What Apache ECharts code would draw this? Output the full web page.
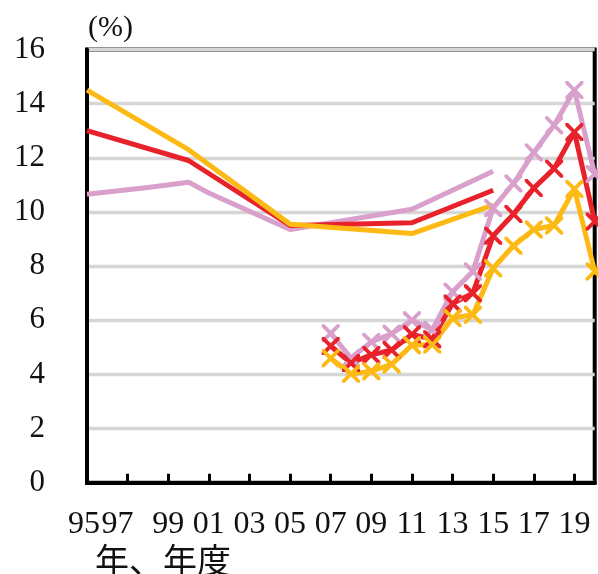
<!DOCTYPE html>
<html><head><meta charset="utf-8">
<script src="https://cdn.jsdelivr.net/npm/echarts@6/dist/echarts.min.js"></script>
<style>html,body{margin:0;padding:0;background:#fff}#c{width:598px;height:574px}</style>
</head><body><div id="c"></div>
<script>
// ---- data ----
const years = [1995,1996,1997,1998,1999,2000,2001,2002,2003,2004,2005,2006,2007,2008,2009,2010,2011,2012,2013,2014,2015,2016,2017,2018,2019,2020];
const tickLabels = ['95','97','99','01','03','05','07','09','11','13','15','17','19'];
const yTickValues = [0,2,4,6,8,10,12,14,16];

const pinkLineYears = [1995,1998,2000,2001,2005,2011,2015];
const pinkLineValues = [10.65,10.9,11.1,10.7,9.35,10.1,11.5];
const redLineYears = [1995,2000,2005,2011,2015];
const redLineValues = [13.0,11.9,9.5,9.6,10.8];
const orangeLineYears = [1995,2000,2005,2011,2015];
const orangeLineValues = [14.5,12.3,9.55,9.2,10.25];

const markerYears = [2007,2008,2009,2010,2011,2012,2013,2014,2015,2016,2017,2018,2019,2020];
const pinkMarkerValues = [5.52,4.6,5.2,5.5,6.0,5.65,7.05,7.8,10.15,11.05,12.2,13.2,14.5,11.4];
const redMarkerValues = [5.05,4.42,4.72,4.9,5.48,5.3,6.62,7.0,9.12,9.92,10.88,11.6,12.95,9.65];
const orangeMarkerValues = [4.6,4.02,4.12,4.37,5.08,5.1,6.08,6.2,7.92,8.75,9.35,9.5,10.85,7.8];

// ---- styles ----
const PINK = '#D9A0CC', RED = '#E8222A', ORANGE = '#FDBA14';
const XMARK = 'path://M0,0 L3,0 L10,7 L17,0 L20,0 L20,3 L13,10 L20,17 L20,20 L17,20 L10,13 L3,20 L0,20 L0,17 L7,10 L0,3 Z';
const SERIF = '"Liberation Serif","Times New Roman",serif';
const labelShift = {'95': 's3', '97': 's10'};

function pairs(xs, vs) { return xs.map((x, i) => [String(x), vs[i]]); }
function plainLine(name, color, xs, vs) {
  return { name, type: 'line', data: pairs(xs, vs), connectNulls: true, showSymbol: false, symbol: 'none',
    lineStyle: { color, width: 5 }, itemStyle: { color }, z: 2, animation: false };
}
function markerLine(name, color, xs, vs) {
  return { name, type: 'line', data: pairs(xs, vs), symbol: XMARK, symbolSize: 18, showSymbol: true, showAllSymbol: true,
    lineStyle: { color, width: 5 }, itemStyle: { color }, z: 3, animation: false };
}

const chart = echarts.init(document.getElementById('c'), null, { renderer: 'canvas' });
chart.setOption({
  backgroundColor: '#fff',
  animation: false,
  title: { text: '年、年度', left: 90, top: 538,
    textStyle: { fontFamily: '"Noto Sans CJK JP"', fontSize: 34, fontWeight: 'normal', color: '#111' } },
  grid: { left: 87, right: 3.3, top: 49.5, bottom: 91.3, show: true, borderColor: '#000', borderWidth: 4, backgroundColor: 'transparent' },
  xAxis: {
    type: 'category', data: years.map(String), boundaryGap: false,
    axisLine: { show: true, lineStyle: { color: '#000', width: 4 } },
    axisTick: { show: true, interval: 1, inside: true, length: 9, lineStyle: { color: '#000', width: 3 } },
    axisLabel: {
      interval: 1, margin: 26, color: '#111', fontFamily: SERIF, fontSize: 32,
      formatter: function (v, idx) {
        const t = tickLabels[idx / 2];
        if (t === undefined) return '';
        const s = labelShift[t];
        return s ? '{' + s + '|' + t + '}' : t;
      },
      rich: {
        s3: { padding: [0, 6, 0, 0], fontFamily: SERIF, fontSize: 32, color: '#111' },
        s10: { padding: [0, 20, 0, 0], fontFamily: SERIF, fontSize: 32, color: '#111' }
      }
    },
    splitLine: { show: false }
  },
  yAxis: {
    type: 'value', min: yTickValues[0], max: yTickValues[yTickValues.length - 1], interval: 2,
    name: '(%)', nameLocation: 'end', nameGap: 6,
    nameTextStyle: { fontFamily: SERIF, fontSize: 30, color: '#111', align: 'left', verticalAlign: 'bottom', padding: [0, 0, 0, 1] },
    axisLine: { show: true, lineStyle: { color: '#000', width: 4 } },
    axisTick: { show: false },
    axisLabel: { margin: 42, color: '#111', fontFamily: SERIF, fontSize: 31 },
    splitLine: { show: true, lineStyle: { color: '#D6D6D6', width: 3.3 } }
  },
  series: [
    plainLine('pinkLine', PINK, pinkLineYears, pinkLineValues),
    plainLine('redLine', RED, redLineYears, redLineValues),
    plainLine('orangeLine', ORANGE, orangeLineYears, orangeLineValues),
    markerLine('pinkMarker', PINK, markerYears, pinkMarkerValues),
    markerLine('redMarker', RED, markerYears, redMarkerValues),
    markerLine('orangeMarker', ORANGE, markerYears, orangeMarkerValues)
  ]
});
</script></body></html>
